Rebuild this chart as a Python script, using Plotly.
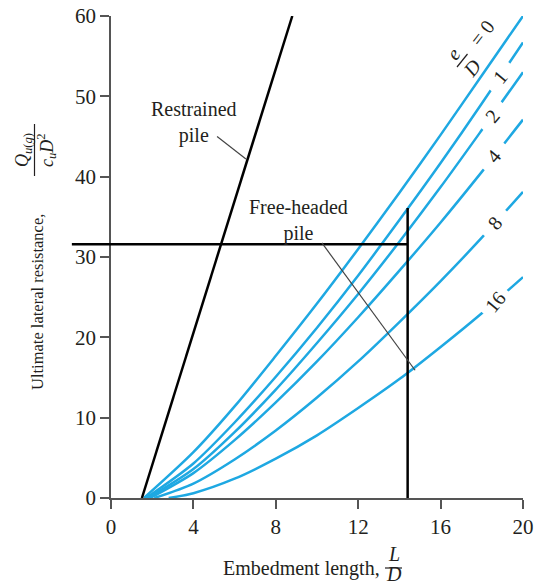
import plotly.graph_objects as go

# ---------------- data ----------------
X_RANGE = [0, 20]
Y_RANGE = [0, 60]
X_TICKS = [0, 4, 8, 12, 16, 20]
Y_TICKS = [0, 10, 20, 30, 40, 50, 60]

# Free-headed pile curves, e/D values
E_OVER_D = ["0", "1", "2", "4", "8", "16"]
LD_0 = [1.6, 4, 6, 8, 10, 12, 14, 16, 18, 20]
Q_0 = [0, 5.7, 11.4, 17.7, 24.2, 31.0, 38.0, 45.2, 52.6, 60.0]
LD_1 = [1.7, 4, 6, 8, 10, 12, 14, 16, 18, 20]
Q_1 = [0, 4.3, 9.4, 15.1, 21.2, 27.7, 34.6, 41.7, 49.1, 56.7]
LD_2 = [1.8, 4, 6, 8, 10, 12, 14, 16, 18, 20]
Q_2 = [0, 3.6, 8.2, 13.5, 19.3, 25.4, 31.9, 38.7, 45.8, 53.0]
LD_4 = [1.9, 4, 6, 8, 10, 12, 14, 16, 18, 20]
Q_4 = [0, 3.1, 7.2, 11.9, 17.0, 22.5, 28.3, 34.3, 40.6, 47.1]
LD_8 = [2.1, 4, 6, 8, 10, 12, 14, 16, 18, 20]
Q_8 = [0, 1.8, 4.8, 8.4, 12.5, 17.0, 21.9, 27.0, 32.4, 38.1]
LD_16 = [2.8, 4, 6, 8, 10, 12, 14, 16, 18, 20]
Q_16 = [0, 0.6, 2.4, 4.9, 7.8, 11.2, 14.8, 18.8, 23.0, 27.5]

# Restrained pile line
LD_RESTR = [1.5, 8.8]
Q_RESTR = [0, 60]

# Worked-example construction lines
Q_DESIGN = 31.6
L_DESIGN = 14.4
V_TOP = 36.1
H_LEFT = -1.9

# label positions on curves (L/D)
LABEL_LD = [None, 18.88, 18.5, 18.59, 18.64, 18.64]

# ---------------- layout constants ----------------
W, H = 534, 587
ML, MR, MT, MB = 111, 11, 16, 89
PW, PH = W - ML - MR, H - MT - MB
BLUE = "#1ea8e2"
INK = "#231f20"
FONT = "Liberation Serif"
FS = 20
FS_TICK = 21
FS_Y = 16.5


def pxx(px):
    return (px - ML) / PW


def pxy(py):
    return (H - MB - py) / PH


def dx(v):
    return (v - X_RANGE[0]) / (X_RANGE[1] - X_RANGE[0])


def dy(v):
    return (v - Y_RANGE[0]) / (Y_RANGE[1] - Y_RANGE[0])


def ptext(px, py, text, angle=0, size=FS, yanchor="middle"):
    return dict(x=pxx(px), y=pxy(py), xref="paper", yref="paper", text=text,
                showarrow=False, textangle=angle, xanchor="center", yanchor=yanchor,
                font=dict(family=FONT, size=size, color=INK))


def pline(x0, y0, x1, y1, width=1.2, color=INK):
    return dict(type="line", xref="paper", yref="paper", x0=pxx(x0), y0=pxy(y0),
                x1=pxx(x1), y1=pxy(y1), line=dict(color=color, width=width))


curves = [(LD_0, Q_0), (LD_1, Q_1), (LD_2, Q_2), (LD_4, Q_4), (LD_8, Q_8), (LD_16, Q_16)]

fig = go.Figure()
for (xs, ys), lab in zip(curves, E_OVER_D):
    fig.add_trace(go.Scatter(x=xs, y=ys, mode="lines", name="e/D=" + lab,
                             line=dict(color=BLUE, width=2.5, shape="spline", smoothing=0.8),
                             hoverinfo="skip", showlegend=False))

fig.add_trace(go.Scatter(x=LD_RESTR, y=Q_RESTR, mode="lines",
                         line=dict(color="black", width=2.5), showlegend=False, hoverinfo="skip"))

# vertical construction line
fig.add_trace(go.Scatter(x=[L_DESIGN, L_DESIGN], y=[0, V_TOP], mode="lines",
                         line=dict(color="black", width=2.5), showlegend=False, hoverinfo="skip"))

shapes = []
# horizontal construction line (extends left past the axis)
shapes.append(dict(type="line", xref="paper", yref="paper",
                   x0=dx(H_LEFT), x1=dx(L_DESIGN), y0=dy(Q_DESIGN), y1=dy(Q_DESIGN),
                   line=dict(color="black", width=2.5)))
# leader lines
shapes.append(dict(type="line", xref="x", yref="y", x0=5.15, y0=45.0, x1=6.55, y1=42.2,
                   line=dict(color="#444", width=1.2)))
shapes.append(dict(type="line", xref="x", yref="y", x0=10.24, y0=31.75, x1=14.76, y1=15.9,
                   line=dict(color="#444", width=1.2)))

annotations = []
annotations.append(dict(x=4.03, y=46.7, xref="x", yref="y", text="Restrained<br>pile",
                        showarrow=False, xanchor="center", yanchor="middle",
                        font=dict(family=FONT, size=FS, color=INK)))
annotations.append(dict(x=9.08, y=34.6, xref="x", yref="y", text="Free-headed<br>pile",
                        showarrow=False, xanchor="center", yanchor="middle",
                        font=dict(family=FONT, size=FS, color=INK)))

# curve labels with white background (breaks the line)
for (xs, ys), lab, lx in zip(curves, E_OVER_D, LABEL_LD):
    if lx is None:
        continue
    for i in range(len(xs) - 1):
        if xs[i] <= lx <= xs[i + 1]:
            t = (lx - xs[i]) / (xs[i + 1] - xs[i])
            ly = ys[i] + t * (ys[i + 1] - ys[i])
            break
    padn = "&nbsp;" if len(lab) > 1 else "&nbsp;&nbsp;"
    annotations.append(dict(x=lx, y=ly, xref="x", yref="y",
                            text=padn + lab + padn,
                            showarrow=False, textangle=-50, bgcolor="white", borderpad=1,
                            xanchor="center", yanchor="middle",
                            font=dict(family=FONT, size=FS, color=INK)))

# e/D = 0 label (fraction)
ang = -52
annotations.append(ptext(453, 54, "<i>e</i>", ang))
annotations.append(ptext(472, 68, "<i>D</i>", ang))
annotations.append(ptext(482, 33, "= 0", ang))
shapes.append(pline(457, 67, 467.5, 54, width=1.2))

# x-axis title
annotations.append(ptext(301, 568, "Embedment length,"))
annotations.append(ptext(393.5, 567, "<i>L</i>", yanchor="bottom"))
annotations.append(ptext(393.5, 586.5, "<i>D</i>", yanchor="bottom"))
shapes.append(pline(385, 568, 402, 568, width=1.2))

# y-axis title
annotations.append(ptext(37, 302, "Ultimate lateral resistance,", -90, size=FS_Y))
annotations.append(ptext(23, 150, "<i>Q</i><sub><i>u</i>(<i>g</i>)</sub>", -90, size=18))
annotations.append(ptext(46, 150, "<i>c</i><sub><i>u</i></sub><i>D</i><sup>2</sup>", -90, size=18))
shapes.append(pline(34.5, 124, 34.5, 176, width=1.2))

axis_common = dict(showline=True, linecolor="#555", linewidth=1.5, ticks="outside",
                   ticklen=9, tickwidth=1.5, tickcolor="#555", showgrid=False, zeroline=False,
                   tickfont=dict(family=FONT, size=FS_TICK, color=INK), mirror=False,
                   automargin=False)

fig.update_layout(
    template="none",
    width=W, height=H,
    margin=dict(l=ML, r=MR, t=MT, b=MB, pad=0, autoexpand=False),
    paper_bgcolor="white", plot_bgcolor="white",
    xaxis=dict(range=X_RANGE, tickvals=X_TICKS, **axis_common),
    yaxis=dict(range=Y_RANGE, tickvals=Y_TICKS, **axis_common),
    shapes=shapes, annotations=annotations,
    font=dict(family=FONT, size=FS, color=INK),
    showlegend=False,
)

fig.write_html("out.html")
